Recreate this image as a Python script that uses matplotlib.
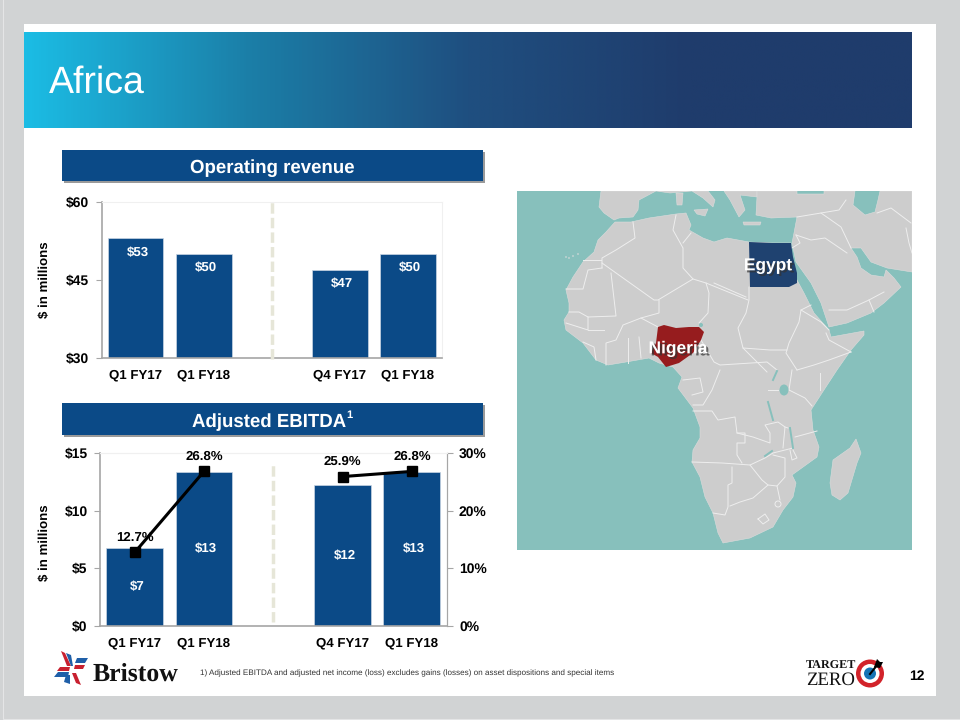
import numpy as np
import matplotlib
matplotlib.use('Agg')
import matplotlib.pyplot as plt
from matplotlib.colors import LinearSegmentedColormap
from matplotlib.patches import Rectangle, Polygon, Circle, Ellipse
import matplotlib.patheffects as pe

plt.rcParams['font.family'] = ['Liberation Sans', 'DejaVu Sans']
plt.rcParams['text.hinting'] = 'no_hinting'

# chart data
categories = ['Q1 FY17', 'Q1 FY18', '', 'Q4 FY17', 'Q1 FY18']
revenue = [53, 50, None, 47, 50]
revenue_labels = ['$53', '$50', '', '$47', '$50']
ebitda = [6.75, 13.35, None, 12.2, 13.35]
ebitda_labels = ['$7', '$13', '', '$12', '$13']
margin = [12.7, 26.8, None, 25.9, 26.8]
margin_labels = ['12.7%', '26.8%', '', '25.9%', '26.8%']

# map outlines, in picture pixels
africa = [(615,222),(631,222),(649,218),(676,214),(686,213),(691,225),(689,230),(703,238),(714,242),(727,238),(749,242),
          (772,243),(791,243),(792,257),(794,273),(797,280),(804,293),(814,313),(829,330),(831,337),(864,331),(864,335),
          (851,350),(837,370),(822,393),(811,410),(813,430),(819,447),(817,457),(792,475),(796,483),(793,497),
          (783,510),(773,527),(750,538),(723,543),(718,533),(713,513),(705,497),(700,477),(692,462),(693,450),
          (700,438),(700,427),(693,408),(678,388),(682,377),(673,367),(659,363),(649,358),(626,362),(608,365),
          (596,360),(583,343),(566,330),(564,320),(569,312),(569,303),(566,290),(573,277),(583,262),(594,252),
          (598,240),(606,232)]
iberia = [(601,191),(599,207),(604,213),(614,220),(619,218),(633,217),(638,210),(639,200),(656,191)]
france = [(656,191),(670,193),(692,191)]
italy = [(692,191),(703,198),(713,207),(715,200),(708,191)]
sardinia = [(676,193),(683,193),(682,205),(677,205)]
sicily = [(694,210),(708,209),(705,216),(697,214)]
greece = [(724,191),(730,200),(739,217),(745,210),(740,195),(757,197),(757,191)]
crete = [(743,222),(761,222),(760,225),(744,225)]
asia = [(757,197),(756,215),(771,218),(797,217),(794,233),(792,243),(796,262),(811,283),(821,303),(829,327),(847,323),
        (871,313),(884,303),(901,287),(894,278),(886,270),(884,277),(871,275),(861,268),(857,257),(851,248),
        (861,248),(871,262),(887,268),(912,272),(912,191),(880,191),(878,200),(875,212),(865,215),(853,205),
        (855,191),(824,191),(824,194),(797,194),(797,191),(757,191)]
madagascar = [(856,439),(861,453),(857,463),(848,493),(840,500),(832,495),(830,483),(833,460),(850,448)]
egypt = [(749,242),(772,243),(791,243),(793,257),(797,273),(797,283),(789,287),(750,287)]
nigeria = [(658,327),(664,325),(676,328),(689,327),(699,327),(704,332),(701,340),(693,353),(679,363),(666,367),
           (658,357),(651,353),(656,343)]
borders = [
    [(633,222),(635,238),(616,250),(602,258),(602,268)],
    [(583,260),(601,260)],
    [(602,268),(588,270),(583,289),(566,289)],
    [(602,263),(654,300),(658,300),(693,279),(706,283),(748,300)],
    [(611,273),(616,316),(588,317),(588,330),(566,323)],
    [(569,312),(579,312),(588,317)],
    [(676,215),(673,230),(683,248),(683,268),(693,279)],
    [(691,233),(683,243)],
    [(659,300),(659,313),(641,318),(623,325),(616,340),(606,343),(606,365)],
    [(628,338),(628,363)],
    [(639,337),(641,358)],
    [(604,330),(588,330)],
    [(583,342),(594,347),(596,360)],
    [(641,318),(658,327)],
    [(706,283),(709,293),(708,313),(699,323)],
    [(749,287),(749,300),(746,313),(738,328),(743,348),(767,372)],
    [(714,283),(746,297)],
    [(811,305),(801,310),(799,322),(789,343),(786,353),(797,370)],
    [(826,333),(829,340),(851,352)],
    [(851,352),(829,360),(814,365),(797,370)],
    [(801,310),(821,322),(829,330)],
    [(743,348),(770,350),(787,350)],
    [(701,340),(714,362),(720,365),(767,362),(777,370)],
    [(720,370),(712,390),(703,405),(693,405)],
    [(683,380),(700,378),(703,392),(692,395)],
    [(693,411),(712,411),(718,420),(735,417),(737,433),(753,437),(770,443),(770,433),(765,425),(778,422),(785,427),(783,448)],
    [(692,462),(722,463),(750,465),(765,458),(773,453),(793,448)],
    [(737,433),(745,433),(745,443),(737,443),(737,455),(742,463)],
    [(732,467),(732,483),(728,485),(728,507),(725,515),(713,513)],
    [(750,465),(762,480),(768,485),(753,498),(740,502),(730,506)],
    [(768,485),(777,486),(785,477),(785,458),(773,455)],
    [(777,486),(780,500)],
    [(758,519),(765,514),(769,520),(763,524),(758,519)],
    [(789,390),(805,398),(812,406)],
    [(792,370),(789,390)],
    [(820,373),(820,390)],
    [(768,390),(778,390)],
    [(785,427),(788,428)],
    [(793,450),(797,458),(792,460),(790,450)],
    [(795,437),(817,431)],
    [(829,310),(847,310),(869,300),(884,292)],
    [(869,300),(874,312)],
    [(796,235),(811,240),(825,238),(847,253)],
    [(797,217),(821,213),(841,227),(851,248)],
    [(821,213),(839,210),(846,200)],
    [(877,213),(891,208),(911,223)],
    [(906,228),(909,243),(912,253)],
    [(792,248),(800,243),(796,235)],
]
lakes = [
    [(768,402),(773,420)],
    [(790,428),(793,448)],
    [(773,380),(777,371)],
    [(765,456),(772,451)],
]
canaries = [(566,257),(569,258),(573,256),(578,254)]

fig = plt.figure(figsize=(9.6, 7.2), dpi=100, facecolor='#d1d3d4')
BLUE = '#0b4a87'
GRAY = '#a6a6a6'
SEA = '#87c0bc'
LAND = '#cdcdcd'


def px_axes(left, top, right, bottom, **kw):
    return fig.add_axes([left / 960, 1 - bottom / 720, (right - left) / 960, (bottom - top) / 720], **kw)


# slide background, banner and headers in pixel coordinates
bg = px_axes(0, 0, 960, 720, zorder=0)
bg.axis('off')
bg.add_patch(Rectangle((2.5, -5), 960, 723.5, facecolor='none', edgecolor='#e4e5e6', lw=0.8))
bg.add_patch(Rectangle((24, 24), 912, 672, color='white', lw=0))
cmap = LinearSegmentedColormap.from_list('banner', ['#1cbce4', '#1b7fa8', '#1f4f80', '#1f3c6c', '#1f3c6c'])
bg.imshow(np.linspace(0, 1, 400).reshape(1, -1), cmap=cmap, extent=(24, 912, 128, 32), aspect='auto', zorder=1)
bg.set_xlim(0, 960)
bg.set_ylim(720, 0)
bg.text(49, 83, 'Africa', color='white', fontsize=27, va='center', ha='left', zorder=3)

for top, bottom in [(150, 181), (403, 435)]:
    bg.add_patch(Rectangle((64, top + 2), 421, bottom - top, color='#9a9a9a', lw=0, zorder=1))
    bg.add_patch(Rectangle((62, top), 421, bottom - top, color=BLUE, lw=0, zorder=2))
bg.text(272, 168, 'Operating revenue', color='white', fontsize=13.4, fontweight='bold', ha='center', va='center', zorder=3)
bg.text(192, 422, 'Adjusted EBITDA', color='white', fontsize=13.4, fontweight='bold', ha='left', va='center', zorder=3)
bg.text(346.5, 415, '1', color='white', fontsize=8, fontweight='bold', ha='left', va='center', zorder=3)

bg.text(45, 280, '$ in millions', rotation=90, fontsize=9.5, fontweight='bold', ha='center', va='center')
bg.text(45, 543, '$ in millions', rotation=90, fontsize=9.5, fontweight='bold', ha='center', va='center')
bg.text(200, 673, '1) Adjusted EBITDA and adjusted net income (loss) excludes gains (losses) on asset dispositions and special items',
        fontsize=5.85, color='#333333', ha='left', va='center')
bg.text(917, 676, '12', fontsize=10, fontweight='bold', ha='center', va='center')

# Bristow logo
bg.text(93, 674, 'Bristow', family='Liberation Serif', fontsize=18.5, fontweight='bold', color='#111111',
        ha='left', va='center')
RED = '#c8202f'
LOGO_BLUE = '#1f5fa8'
for pts, col in [([(61, 651), (65, 653), (71, 666), (67, 666)], RED),
                 ([(66, 653), (71, 655), (73, 666), (71, 666)], LOGO_BLUE),
                 ([(75, 663), (77, 658), (88, 658), (85, 663)], LOGO_BLUE),
                 ([(74, 669), (75, 665), (85, 665), (83, 669)], RED),
                 ([(54, 677), (58, 672), (69, 672), (68, 677)], LOGO_BLUE),
                 ([(57, 671), (60, 667), (70, 667), (69, 671)], RED),
                 ([(66, 675), (70, 675), (70, 684), (64, 682)], LOGO_BLUE),
                 ([(72, 673), (76, 673), (81, 685), (76, 683)], RED)]:
    bg.add_patch(Polygon(pts, color=col, lw=0))

# Target Zero logo
bg.text(806, 666, 'TARGET', family='Liberation Serif', fontsize=8.7, fontweight='bold', color='#111111',
        ha='left', va='center')
bg.text(806, 680, 'ZERO', family='Liberation Serif', fontsize=13.5, color='#111111', ha='left', va='center')
bg.add_patch(Circle((870, 673.5), 14, color='#d2232a', lw=0))
bg.add_patch(Circle((870, 673.5), 9.5, color='white', lw=0))
bg.add_patch(Circle((870, 673.5), 6, color='#1574b5', lw=0))
bg.plot([870, 878], [674, 664], color='black', lw=1.5)
bg.add_patch(Polygon([(874, 667), (877, 659), (880, 662), (883, 662), (880, 668)], color='black', lw=0))

x = np.arange(len(categories))


def style_axis(ax, right_spine=False):
    for side in ['left', 'bottom']:
        ax.spines[side].set_color(GRAY)
        ax.spines[side].set_linewidth(1.2)
    ax.spines['top'].set_color('#f0f0f0')
    ax.spines['right'].set_color(GRAY if right_spine else '#f0f0f0')
    ax.tick_params(axis='x', length=0, pad=8, labelsize=9.5)
    ax.tick_params(axis='y', length=4, color=GRAY, labelsize=10, pad=5)
    ax.set_xlim(-0.5, 4.5)
    ax.set_xticks([0, 1, 3, 4])
    ax.set_xticklabels([categories[i] for i in [0, 1, 3, 4]], fontweight='bold')
    for lab in ax.get_yticklabels():
        lab.set_fontweight('bold')


def bars(ax, values):
    for xi, v in zip(x, values):
        if v is not None:
            ax.bar(xi, v, width=0.82, color=BLUE, edgecolor='#c9d6e4', linewidth=0.5, zorder=2)


# operating revenue
ax1 = px_axes(101.5, 202, 442, 358)
bars(ax1, revenue)
ax1.set_ylim(30, 60)
ax1.set_yticks([30, 45, 60])
ax1.set_yticklabels(['$30', '$45', '$60'])
style_axis(ax1)
ax1.plot([2, 2], [29.8, 60.5], color='#e6e6d8', lw=2.5, ls=(0, (3, 1.2)), clip_on=False, zorder=3)
for xi, v, lab in zip(x, revenue, revenue_labels):
    if v is not None:
        ax1.annotate(lab, (xi, v), xytext=(1.5, -10), textcoords='offset points', color='white',
                     fontsize=9.5, fontweight='bold', ha='center', va='center', zorder=4)

# adjusted EBITDA with margin line
ax2 = px_axes(100, 453, 446.5, 625.5)
bars(ax2, ebitda)
ax2.set_ylim(0, 15)
ax2.set_yticks([0, 5, 10, 15])
ax2.set_yticklabels(['$0', '$5', '$10', '$15'])
style_axis(ax2, right_spine=True)
ax2.plot([2, 2], [0.3, 14], color='#e6e6d8', lw=2.5, ls=(0, (3, 1.2)), zorder=3)
for xi, v, lab in zip(x, ebitda, ebitda_labels):
    if v is not None:
        ax2.text(xi + 0.03, v / 2, lab, color='white', fontsize=9.5, fontweight='bold',
                 ha='center', va='center', zorder=4)

ax3 = ax2.twinx()
ax3.set_ylim(0, 30)
ax3.set_yticks([0, 10, 20, 30])
ax3.set_yticklabels(['0%', '10%', '20%', '30%'], fontweight='bold')
ax3.tick_params(axis='y', length=4, color=GRAY, labelsize=10, pad=5)
ax3.spines['right'].set_color(GRAY)
ax3.spines['top'].set_color('#f0f0f0')
ax3.spines['left'].set_visible(False)
ax3.spines['bottom'].set_visible(False)
for seg in ([0, 1], [3, 4]):
    ax3.plot(seg, [margin[i] for i in seg], color='black', lw=2.2, marker='s', ms=6.5, zorder=5)
for xi, v, lab in zip(x, margin, margin_labels):
    if v is not None:
        ax3.annotate(lab, (xi, v), xytext=(0, 11), textcoords='offset points', fontsize=9.5,
                     fontweight='bold', ha='center', va='center', zorder=6)

# map panel, coordinates follow the picture
mp = px_axes(516.5, 191, 912.5, 550)
mp.set_xlim(516.5, 912.5)
mp.set_ylim(550, 191)
mp.set_facecolor(SEA)
mp.set_xticks([])
mp.set_yticks([])
for side in mp.spines.values():
    side.set_visible(False)
for shape in [africa, iberia, france, italy, sardinia, sicily, greece, crete, asia, madagascar]:
    mp.add_patch(Polygon(shape, closed=True, facecolor=LAND, edgecolor='#dcdcdc', lw=0.4, zorder=1))
for line in borders:
    xs, ys = zip(*line)
    mp.plot(xs, ys, color='#eeeeee', lw=0.7, zorder=2)
for line in lakes:
    xs, ys = zip(*line)
    mp.plot(xs, ys, color=SEA, lw=1.4, zorder=2)
mp.add_patch(Circle((778, 504), 3, facecolor='none', edgecolor='#eeeeee', lw=0.7, zorder=2))
mp.add_patch(Ellipse((784, 390), 9, 11, color=SEA, lw=0, zorder=2))
mp.add_patch(Circle((701, 325), 2, color=SEA, lw=0, zorder=2))
for cx, cy in canaries:
    mp.add_patch(Circle((cx, cy), 0.8, color='#dcdcdc', lw=0, zorder=2))
mp.add_patch(Polygon(egypt, closed=True, facecolor='#1f4270', edgecolor='none', zorder=3))
mp.add_patch(Polygon(nigeria, closed=True, facecolor='#961c1e', edgecolor='none', zorder=3))
shadow = [pe.withSimplePatchShadow(offset=(1.5, -1.5), shadow_rgbFace='#333333', alpha=0.7)]
mp.text(768, 266, 'Egypt', color='white', fontsize=12.5, fontweight='bold', ha='center', va='center',
        path_effects=shadow, zorder=4)
mp.text(678, 349, 'Nigeria', color='white', fontsize=12.5, fontweight='bold', ha='center', va='center',
        path_effects=shadow, zorder=4)

fig.savefig('out.png', dpi=100, facecolor=fig.get_facecolor())
